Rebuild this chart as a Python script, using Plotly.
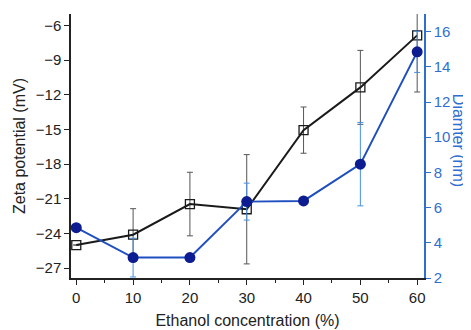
import plotly.graph_objects as go

ethanol = [0, 10, 20, 30, 40, 50, 60]
zeta = [-25.0, -24.1, -21.45, -21.9, -15.05, -11.35, -6.85]
zeta_err = [0, 2.25, 2.75, 4.73, 2.0, 3.2, 4.9]
diameter = [4.86, 3.16, 3.16, 6.34, 6.38, 8.47, 14.85]
diameter_err = [0, 1.1, 0, 1.05, 0, 2.37, 1.17]

x_ticks = [0, 10, 20, 30, 40, 50, 60]
zeta_ticks = [-27, -24, -21, -18, -15, -12, -9, -6]
diam_ticks = [2, 4, 6, 8, 10, 12, 14, 16]

FONT = "Liberation Sans, Arial, sans-serif"
BLUE_AX = "#2f6fd0"

fig = go.Figure()
fig.add_trace(go.Scatter(
    x=ethanol, y=zeta, mode="lines+markers", yaxis="y",
    line=dict(color="#1a1a1a", width=2),
    marker=dict(symbol="square-open", size=9, color="#1a1a1a", line=dict(width=1.3)),
    error_y=dict(type="data", array=zeta_err, color="#555555", thickness=1, width=3),
    showlegend=False,
))
fig.add_trace(go.Scatter(
    x=ethanol, y=diameter, mode="lines+markers", yaxis="y2",
    line=dict(color="#1f4fbf", width=2),
    marker=dict(symbol="circle", size=11, color="#0d1c91", line=dict(width=0)),
    error_y=dict(type="data", array=diameter_err, color="#4a8fe0", thickness=1, width=3),
    showlegend=False,
))

# page body has an 8px default margin, so the figure is sized to fill the rest
fig.update_layout(
    width=463, height=322,
    margin=dict(l=63, r=47, t=6, b=52, autoexpand=False),
    paper_bgcolor="white", plot_bgcolor="white",
    font=dict(family=FONT, size=15, color="#222222"),
    xaxis=dict(
        range=[-0.93, 61.2], tickvals=x_ticks, ticks="outside", ticklen=5,
        tickwidth=1, tickcolor="#222", showline=True, linecolor="#222", linewidth=1.5,
        showgrid=False, zeroline=False, tickfont=dict(size=15),
        minor=dict(dtick=5, tick0=0, ticks="outside", ticklen=3, tickcolor="#222"),
        title=dict(text="Ethanol concentration (%)", standoff=10, font=dict(size=16)),
    ),
    xaxis2=dict(
        range=[-0.93, 61.2], overlaying="x", side="top", anchor="y",
        tickvals=list(range(0, 61, 5)), ticks="inside", ticklen=4, tickcolor="#222",
        showticklabels=False, showline=True, linecolor="#222", linewidth=1.5,
        showgrid=False, zeroline=False,
    ),
    yaxis=dict(
        range=[-27.85, -5.0], tickvals=zeta_ticks, ticks="outside", ticklen=5,
        tickcolor="#222", showline=True, linecolor="#222", linewidth=1.5,
        showgrid=False, zeroline=False, tickfont=dict(size=15),
        title=dict(text="Zeta potential (mV)", standoff=6, font=dict(size=16)),
    ),
    yaxis2=dict(
        range=[2, 17], tickvals=diam_ticks, overlaying="y", side="right", anchor="x",
        ticks="outside", ticklen=5, tickcolor=BLUE_AX, tickfont=dict(color=BLUE_AX, size=15),
        showline=True, linecolor=BLUE_AX, linewidth=1.5,
        showgrid=False, zeroline=False,
    ),
    annotations=[dict(
        text="Diamter (nm)", textangle=90, xref="paper", yref="paper",
        x=1.096, y=0.52, xanchor="center", yanchor="middle", showarrow=False,
        font=dict(size=16, color=BLUE_AX, family=FONT),
    )],
)

fig.write_html("out.html")
